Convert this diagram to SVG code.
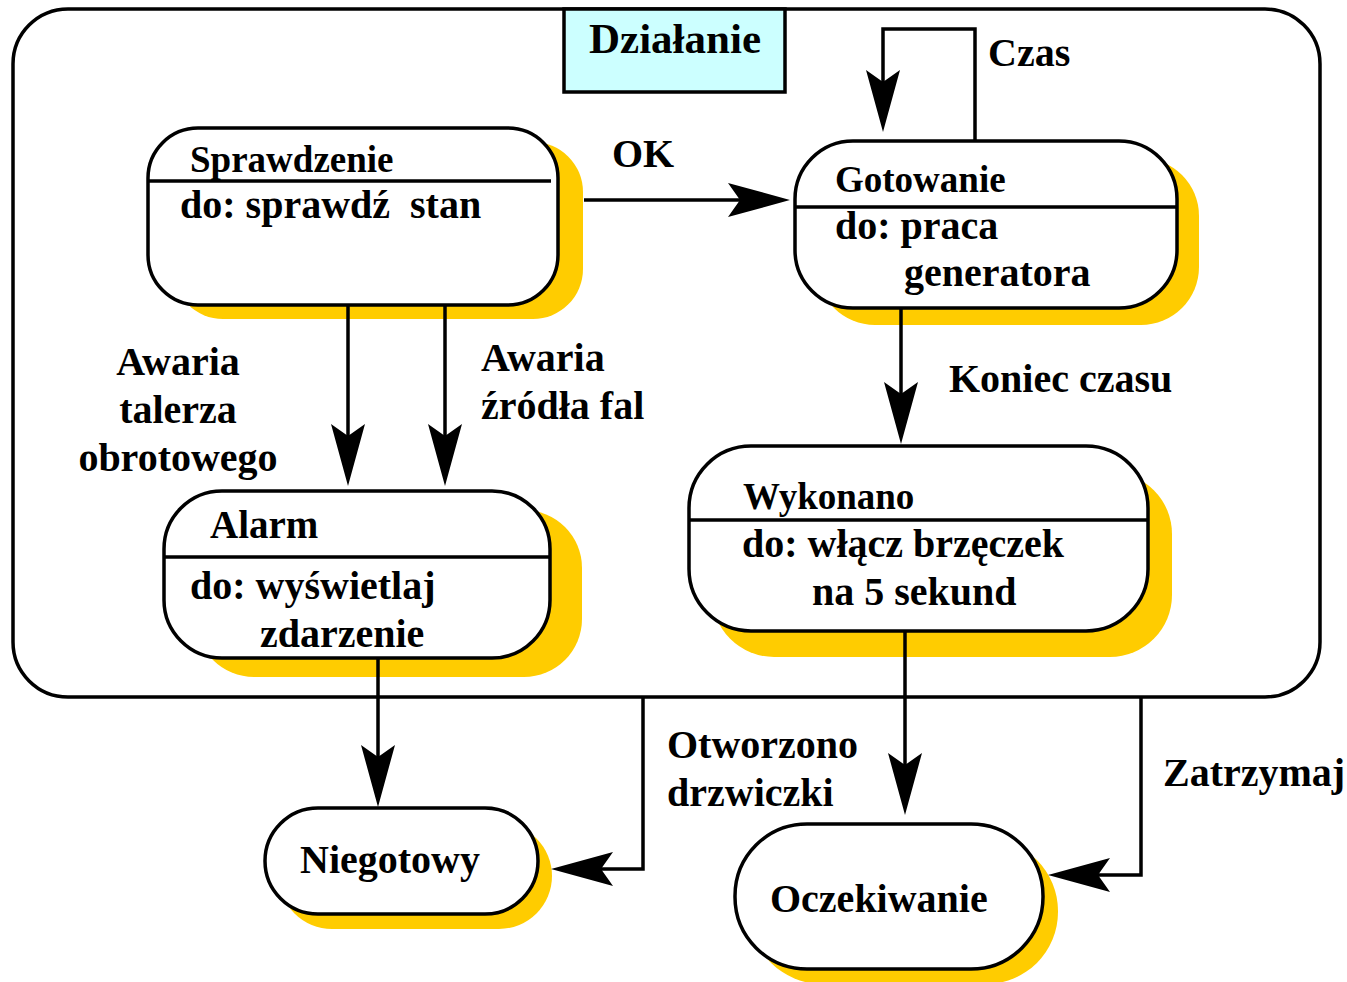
<svg xmlns="http://www.w3.org/2000/svg" width="1347" height="982" viewBox="0 0 1347 982">
  <style>
    .frame { fill: #ffffff; stroke: #000000; stroke-width: 3.5; }
    .shadow { fill: #ffcc00; stroke: none; }
    .state { fill: #ffffff; stroke: #000000; stroke-width: 3.5; }
    .divider { stroke: #000000; stroke-width: 3.5; fill: none; }
    .title { fill: #ccffff; stroke: #000000; stroke-width: 3.5; }
    .edge { fill: none; stroke: #000000; stroke-width: 3.5; stroke-linejoin: miter; }
    text { font-family: "Liberation Serif", "Times New Roman", serif; font-weight: bold; fill: #000000; font-size: 40px; }
    text.hdr { font-size: 37px; }
    text.big { font-size: 43px; }
    text.mid { font-size: 39px; }
  </style>
  <defs>
    <marker id="head" markerUnits="userSpaceOnUse" markerWidth="70" markerHeight="40" viewBox="-15 -20 70 40" refX="0" refY="0" orient="auto" overflow="visible">
      <path d="M50,0 L-12,-17 L0,0 L-12,17 Z" fill="#000000"/>
    </marker>
  </defs>

  <!-- composite state -->
  <g id="dzialanie">
    <rect class="frame" x="13" y="9" width="1307" height="688" rx="55" ry="55"/>
    <rect class="title" x="564" y="9" width="221" height="83"/>
    <text class="big" x="675" y="53" text-anchor="middle">Działanie</text>
  </g>

  <g id="sprawdzenie">
    <rect class="shadow" x="173" y="142" width="410" height="177" rx="50" ry="50"/>
    <rect class="state" x="148" y="128" width="410" height="177" rx="50" ry="50"/>
    <line class="divider" x1="148" y1="181" x2="551" y2="181"/>
    <text class="hdr" x="190" y="172">Sprawdzenie</text>
    <text x="180" y="218" xml:space="preserve">do: sprawdź  stan</text>
  </g>

  <g id="gotowanie">
    <rect class="shadow" x="817" y="158" width="382" height="167" rx="58" ry="58"/>
    <rect class="state" x="795" y="141" width="382" height="167" rx="58" ry="58"/>
    <line class="divider" x1="795" y1="207" x2="1177" y2="207"/>
    <text class="hdr" x="835" y="192">Gotowanie</text>
    <text x="835" y="239">do: praca</text>
    <text x="904" y="286">generatora</text>
  </g>

  <g id="alarm">
    <rect class="shadow" x="196" y="510" width="386" height="167" rx="58" ry="58"/>
    <rect class="state" x="164" y="491" width="386" height="167" rx="58" ry="58"/>
    <line class="divider" x1="164" y1="557" x2="550" y2="557"/>
    <text class="mid" x="210" y="538">Alarm</text>
    <text x="190" y="599">do: wyświetlaj</text>
    <text x="260" y="647">zdarzenie</text>
  </g>

  <g id="wykonano">
    <rect class="shadow" x="712" y="472" width="460" height="185" rx="62" ry="62"/>
    <rect class="state" x="689" y="446" width="459" height="185" rx="62" ry="62"/>
    <line class="divider" x1="689" y1="520" x2="1148" y2="520"/>
    <text class="hdr" x="743" y="509">Wykonano</text>
    <text x="742" y="557">do: włącz brzęczek</text>
    <text x="812" y="605">na 5 sekund</text>
  </g>

  <g id="niegotowy">
    <rect class="shadow" x="279" y="823" width="273" height="106" rx="53" ry="53"/>
    <rect class="state" x="265" y="808" width="273" height="106" rx="53" ry="53"/>
    <text x="300" y="873">Niegotowy</text>
  </g>

  <g id="oczekiwanie">
    <rect class="shadow" x="750" y="839" width="308" height="145" rx="72" ry="72"/>
    <rect class="state" x="735" y="824" width="308" height="145" rx="72" ry="72"/>
    <text x="770" y="912">Oczekiwanie</text>
  </g>

  <!-- transitions -->
  <g id="connectors">
    <line class="edge" x1="584" y1="200" x2="740" y2="200" marker-end="url(#head)"/>
    <polyline class="edge" points="975,140 975,29 883,29 883,82" marker-end="url(#head)"/>
    <line class="edge" x1="348" y1="306" x2="348" y2="436" marker-end="url(#head)"/>
    <line class="edge" x1="445" y1="306" x2="445" y2="436" marker-end="url(#head)"/>
    <line class="edge" x1="901" y1="308" x2="901" y2="394" marker-end="url(#head)"/>
    <line class="edge" x1="378" y1="658" x2="378" y2="757" marker-end="url(#head)"/>
    <line class="edge" x1="905" y1="631" x2="905" y2="765" marker-end="url(#head)"/>
    <polyline class="edge" points="643,697 643,869 601,869" marker-end="url(#head)"/>
    <polyline class="edge" points="1141,697 1141,875 1098,875" marker-end="url(#head)"/>
  </g>

  <g id="labels">
    <text x="612" y="167">OK</text>
    <text x="988" y="66">Czas</text>
    <text x="178" y="375" text-anchor="middle">Awaria</text>
    <text x="178" y="423" text-anchor="middle">talerza</text>
    <text x="178" y="471" text-anchor="middle">obrotowego</text>
    <text x="481" y="371">Awaria</text>
    <text x="481" y="419">źródła fal</text>
    <text x="949" y="392">Koniec czasu</text>
    <text x="667" y="758">Otworzono</text>
    <text x="667" y="806">drzwiczki</text>
    <text x="1163" y="786">Zatrzymaj</text>
  </g>
</svg>
